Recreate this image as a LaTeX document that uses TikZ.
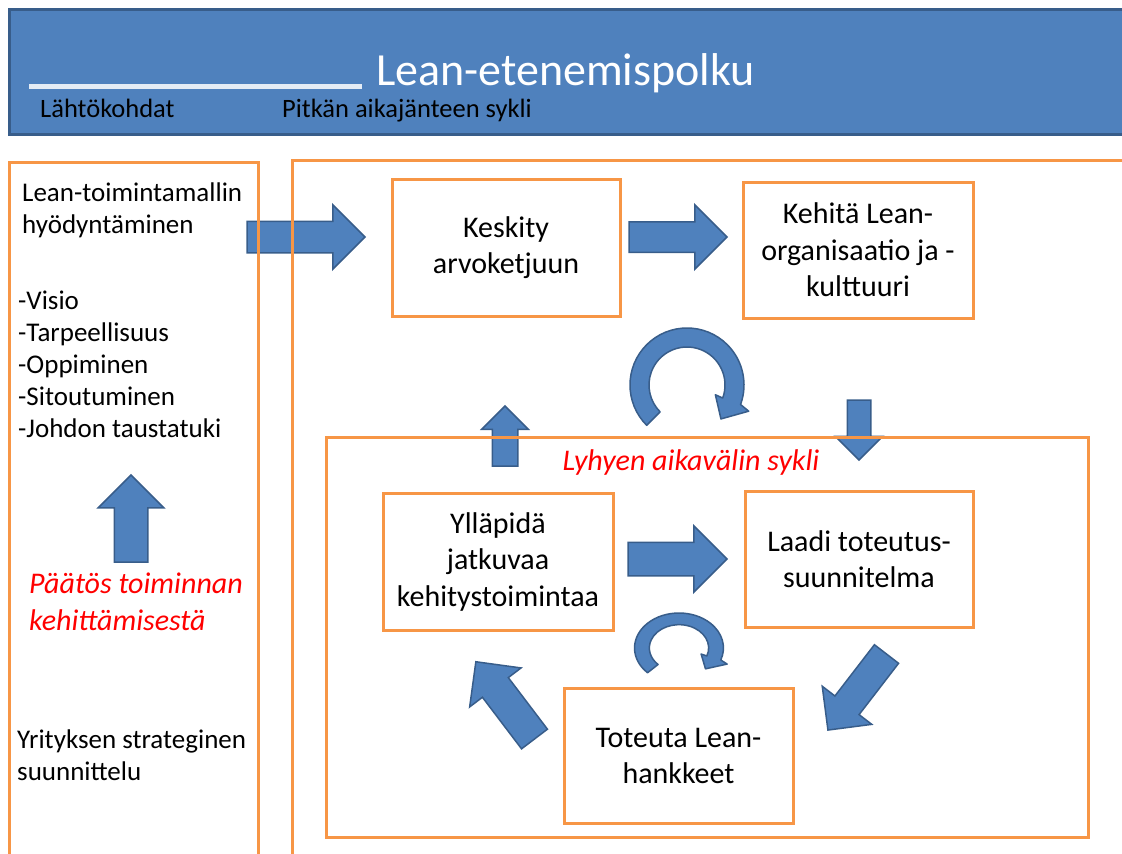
\documentclass[tikz,border=0pt]{standalone}
\usepackage{fontspec}
\setmainfont{Carlito}
\usetikzlibrary{shapes.arrows}

\definecolor{hdrblue}{HTML}{4F81BD}
\definecolor{hdrline}{HTML}{385D8A}
\definecolor{frameorange}{HTML}{F79646}

\tikzset{ringarrow/.pic={
    \path[draw=hdrline, fill=hdrblue, line width=1.5pt, line join=round]
      (135:57) arc[start angle=135, end angle=380, radius=57]
      -- (383:67) -- (405:48) -- (379:30) -- (380:38)
      arc[start angle=380, end angle=135, radius=38] -- cycle;
  }}

\begin{document}
\begin{tikzpicture}[x=1pt, y=-1pt,
    frame/.style={draw=frameorange, line width=3pt},
    stepbox/.style={rectangle, draw=frameorange, line width=3pt, fill=white, align=center,
      font=\fontsize{30}{36.5}\selectfont, inner sep=0pt},
    blockarrow/.style n args={3}{single arrow, draw=hdrline, fill=hdrblue, line width=1.5pt,
      inner xsep=0pt, inner ysep=#2/2, outer sep=0pt, minimum height=#1,
      single arrow head extend=#3, anchor=tail},
    bodytext/.style={anchor=base west, inner sep=0pt, align=left,
      font=\fontsize{27}{32}\selectfont},
    redtext/.style={inner sep=0pt, text=red, font=\fontsize{30}{37}\selectfont\itshape}]
    \useasboundingbox (0,0) rectangle (1122,854);
    \clip (0,0) rectangle (1122,854);

    % header
    \node (header) [rectangle, draw=hdrline, fill=hdrblue, line width=2.5pt, anchor=north west,
      minimum width=1140, minimum height=125] at (8,8) {};
    \draw[white!85!hdrblue, line width=5pt] (29,86.5) -- (362,86.5);
    \node (title) [anchor=base west, inner sep=0pt, text=white, font=\fontsize{46}{52}\selectfont]
      at (376,85) {Lean-etenemispolku};
    \node (start) [anchor=base west, inner sep=0pt, font=\fontsize{26.5}{30}\selectfont]
      at (40,117) {Lähtökohdat};
    \node (long) [anchor=base west, inner sep=0pt, font=\fontsize{26.5}{30}\selectfont]
      at (282,117) {Pitkän aikajänteen sykli};

    % block arrows (placed at their tails)
    \node (a1) [blockarrow={118}{30}{16.5}] at (247,237) {};
    \node (a2) [blockarrow={98}{29}{17}] at (629,237) {};
    \node (a3) [blockarrow={99}{32}{16.5}] at (628,559) {};
    \node (aup) [blockarrow={87}{32}{16}, rotate=90] at (131,562) {};
    \node (aupin) [blockarrow={60}{24}{10.5}, rotate=90] at (505,466) {};
    \node (adown) [blockarrow={60}{22}{12}, rotate=-90] at (859,400) {};
    \node (adl) [blockarrow={96}{29}{16}, rotate=-127.6] at (886.5,654) {};
    \node (aul) [blockarrow={97}{31}{16}, rotate=127.2] at (534.5,739) {};

    \pic (bigring) at (687,385) {ringarrow};
    \pic (smallring) [xscale=0.78, yscale=0.614] at (679,648) {ringarrow};

    % frames
    \draw[frame] (9,162) rectangle (258,880);
    \draw[frame] (292,160) rectangle (1140,880);
    \draw[frame] (326,437) rectangle (1088,837);

    % steps
    \node (focus) [stepbox, minimum width=228, minimum height=137] at (506,247.5)
      {Keskity\\arvoketjuun};
    \node (develop) [stepbox, minimum width=230, minimum height=136] at (858,250)
      {Kehitä Lean-\\organisaatio ja -\\kulttuuri};
    \node (maintain) [stepbox, minimum width=230, minimum height=137] at (498,561.5)
      {Ylläpidä\\jatkuvaa\\kehitystoimintaa};
    \node (plan) [stepbox, minimum width=228, minimum height=136] at (859,559)
      {Laadi toteutus-\\suunnitelma};
    \node (execute) [stepbox, minimum width=229, minimum height=135] at (678.5,756)
      {Toteuta Lean-\\hankkeet};

    % left column (base = last line)
    \node (usage) [bodytext] at (22,233) {Lean-toimintamallin\\hyödyntäminen};
    \node (factors) [bodytext] at (18,437)
      {-Visio\\-Tarpeellisuus\\-Oppiminen\\-Sitoutuminen\\-Johdon taustatuki};
    \node (decision) [redtext, anchor=base west, align=left] at (29,630)
      {Päätös toiminnan\\kehittämisestä};
    \node (strategy) [bodytext] at (17,780) {Yrityksen strateginen\\suunnittelu};

    \node (short) [redtext] at (691,462) {Lyhyen aikavälin sykli};
\end{tikzpicture}
\end{document}
